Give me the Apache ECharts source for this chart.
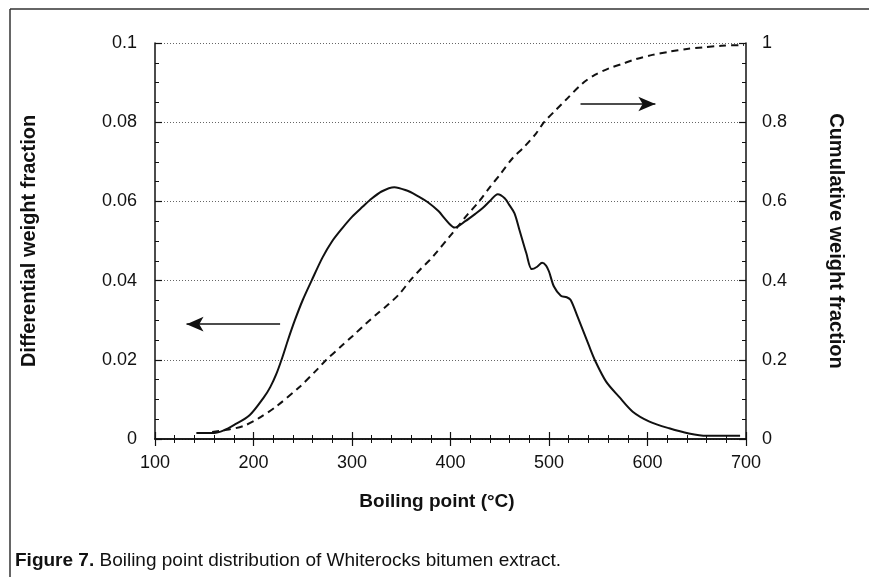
<!DOCTYPE html>
<html>
<head>
<meta charset="utf-8">
<script src="https://cdn.jsdelivr.net/npm/echarts@6/dist/echarts.min.js"></script>
<style>
  html, body { margin: 0; padding: 0; background: #fff; }
  #chart { width: 869px; height: 577px; }
</style>
</head>
<body>
<div id="chart"></div>
<script>
// differential curve (solid)
var diffT = [142, 160, 170, 180, 196, 211, 217, 223, 229, 235, 242, 250, 259, 270, 280, 290, 300, 311, 318, 330, 343, 355, 365, 377, 388, 394, 399, 404, 415, 426, 433, 440, 448, 455, 460, 465, 470, 477, 482.5, 488, 493, 497, 500, 505, 512, 518, 522, 529, 541, 547, 558, 571, 585, 602, 622, 642, 660, 694];
var diffV = [0.0015, 0.0015, 0.0022, 0.0035, 0.006, 0.0107, 0.0131, 0.0163, 0.0204, 0.025, 0.030, 0.0351, 0.040, 0.0458, 0.0500, 0.0532, 0.0561, 0.0587, 0.0603, 0.0625, 0.0636, 0.0628, 0.0616, 0.0598, 0.0575, 0.0557, 0.0543, 0.0534, 0.055, 0.057, 0.0584, 0.0601, 0.0618, 0.0608, 0.059, 0.057, 0.0528, 0.0469, 0.0429, 0.0435, 0.0445, 0.0438, 0.0423, 0.0385, 0.0362, 0.0358, 0.0351, 0.0309, 0.0233, 0.0197, 0.0145, 0.0107, 0.0069, 0.0044, 0.0027, 0.0014, 0.0008, 0.0008];

// cumulative curve (dashed)
var cumT = [158, 175, 190, 205, 223, 247, 264, 274, 289, 301, 314, 325, 337, 348, 359, 370, 379, 386, 399, 408, 417, 429, 440, 450, 463, 475, 487, 495, 507, 517, 534, 547, 561, 575, 588, 605, 622, 640, 656, 675, 698];
var cumV = [0.018, 0.024, 0.033, 0.052, 0.082, 0.132, 0.174, 0.2, 0.234, 0.261, 0.291, 0.315, 0.34, 0.366, 0.4, 0.43, 0.452, 0.472, 0.511, 0.538, 0.566, 0.60, 0.636, 0.667, 0.709, 0.738, 0.772, 0.80, 0.831, 0.856, 0.898, 0.92, 0.936, 0.948, 0.959, 0.97, 0.978, 0.985, 0.989, 0.993, 0.995];

// arrows pointing to each curve's axis
var leftArrow = [[227, 0.029], [132, 0.029]];
var rightArrow = [[532, 0.846], [608, 0.846]];

var ink = '#111';
var tickFont = '"Liberation Sans", Arial, Helvetica, sans-serif';
var titleFont = '"Liberation Sans", Arial, sans-serif';

function zip(a, b) {
  var out = [];
  for (var i = 0; i < a.length; i++) out.push([a[i], b[i]]);
  return out;
}

var chart = echarts.init(document.getElementById('chart'));

var axisLine = { show: true, lineStyle: { color: ink, width: 1.5 } };
var tick = { show: true, inside: true, length: 7, lineStyle: { color: ink, width: 1.2 } };
var minor = { show: true, length: 4, lineStyle: { color: ink, width: 1 } };
var nameStyle = { fontFamily: titleFont, fontSize: 20, fontWeight: 'bold', color: ink };
var labelStyle = { fontFamily: tickFont, fontSize: 18, color: ink };

var option = {
  animation: false,
  backgroundColor: '#fff',
  title: {
    left: 10,
    top: 546,
    text: '{b|Figure 7.} Boiling point distribution of Whiterocks bitumen extract.',
    textStyle: {
      fontFamily: titleFont,
      fontSize: 19,
      fontWeight: 'normal',
      color: ink,
      rich: {
        b: { fontFamily: titleFont, fontSize: 19, fontWeight: 'bold', color: ink }
      }
    }
  },
  graphic: [
    { type: 'line', shape: { x1: 10, y1: 9, x2: 869, y2: 9 }, style: { stroke: '#333', lineWidth: 1.5 } },
    { type: 'line', shape: { x1: 10, y1: 9, x2: 10, y2: 577 }, style: { stroke: '#333', lineWidth: 1.5 } }
  ],
  grid: { left: 155, right: 123, top: 43, bottom: 138 },
  xAxis: [
    {
      type: 'value', min: 100, max: 700, interval: 100,
      name: 'Boiling point (°C)', nameLocation: 'middle', nameGap: 53,
      nameTextStyle: { fontFamily: titleFont, fontSize: 19, fontWeight: 'bold', color: ink, padding: [0, 27, 0, 0] },
      axisLine: axisLine, axisTick: tick,
      minorTick: Object.assign({ splitNumber: 5 }, minor),
      axisLabel: Object.assign({ margin: 15 }, labelStyle),
      splitLine: { show: false }
    },
    {
      type: 'value', min: 100, max: 700, interval: 100, position: 'top',
      axisLine: axisLine, axisTick: tick,
      minorTick: Object.assign({ splitNumber: 5 }, minor),
      axisLabel: { show: false }, splitLine: { show: false }
    }
  ],
  yAxis: [
    {
      type: 'value', min: 0, max: 0.1, interval: 0.02,
      name: 'Differential weight fraction', nameLocation: 'middle', nameRotate: 90, nameGap: 116,
      nameTextStyle: nameStyle,
      axisLine: axisLine, axisTick: tick,
      minorTick: Object.assign({ splitNumber: 4 }, minor),
      axisLabel: Object.assign({ margin: 18 }, labelStyle),
      splitLine: { show: true, lineStyle: { color: '#666', width: 1, type: [1, 2] } }
    },
    {
      type: 'value', min: 0, max: 1, interval: 0.2, position: 'right',
      name: 'Cumulative weight fraction', nameLocation: 'middle', nameRotate: -90, nameGap: 80,
      nameTextStyle: nameStyle,
      axisLine: axisLine, axisTick: tick,
      minorTick: Object.assign({ splitNumber: 4 }, minor),
      axisLabel: Object.assign({ margin: 16 }, labelStyle),
      splitLine: { show: false }
    }
  ],
  series: [
    {
      name: 'Differential', type: 'line', xAxisIndex: 0, yAxisIndex: 0,
      data: zip(diffT, diffV), smooth: 0.3, showSymbol: false,
      lineStyle: { color: ink, width: 2 },
      markLine: {
        silent: true, symbol: ['none', 'arrow'], symbolSize: [11, 17],
        label: { show: false },
        lineStyle: { color: ink, width: 1.5, type: 'solid' },
        data: [[{ coord: leftArrow[0] }, { coord: leftArrow[1] }]]
      }
    },
    {
      name: 'Cumulative', type: 'line', xAxisIndex: 0, yAxisIndex: 1,
      data: zip(cumT, cumV), smooth: 0.3, showSymbol: false,
      lineStyle: { color: ink, width: 2, type: [7, 5] },
      markLine: {
        silent: true, symbol: ['none', 'arrow'], symbolSize: [11, 17],
        label: { show: false },
        lineStyle: { color: ink, width: 1.5, type: 'solid' },
        data: [[{ coord: rightArrow[0] }, { coord: rightArrow[1] }]]
      }
    }
  ]
};

chart.setOption(option);
</script>
</body>
</html>
